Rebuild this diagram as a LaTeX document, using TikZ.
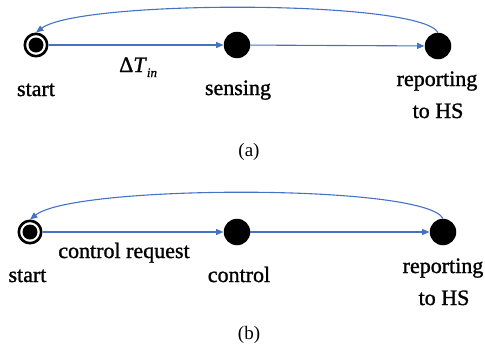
\documentclass[tikz,border=0pt]{standalone}
\usepackage{fontspec}
\setmainfont{Liberation Serif}
\newfontfamily\labelfont[FakeBold=1.2]{Liberation Serif}
\usetikzlibrary{arrows.meta}
\definecolor{flowblue}{RGB}{68,114,196}

\begin{document}
\begin{tikzpicture}[x=1pt,y=-1pt,
  state/.style={circle,fill=black,minimum size=26.5pt,inner sep=0pt},
  initstate/.style={circle,draw=black,line width=2.6pt,minimum size=22.4pt,inner sep=0pt,
    path picture={\fill[black] (path picture bounding box.center) circle (7.5pt);}},
  flow/.style={draw=flowblue,line width=1.1pt,-{Triangle[length=7.5pt,width=6pt]}},
  lbl/.style={font=\labelfont\fontsize{22}{26}\selectfont,anchor=base,inner sep=0pt},
  subcaption/.style={font=\fontsize{19}{22}\selectfont,anchor=base,inner sep=0pt}]
\useasboundingbox (0,0) rectangle (485,349);

% (a) sensing cycle
\node[initstate] (a0) at (36,45) {};
\node[state] (a1) at (237,45) {};
\node[state] (a2) at (438,46) {};
\draw[flow] (a0) -- (a1);
\draw[flow] (a1) -- (a2);
\draw[flow] (a2.north) .. controls +(-18,-33) and +(44,-33) .. (a0.north);
\node[lbl,anchor=base west] (dt) at (119,72) {Δ\textit{T}\raisebox{-5pt}{\fontsize{13}{13}\selectfont\itshape in}};
\node[lbl] (la0) at (36,96) {start};
\node[lbl] (la1) at (238,95) {sensing};
\node[lbl] (la2) at (437,86) {reporting};
\node[lbl] (la3) at (438,118) {to HS};
\node[subcaption] (capa) at (249,156) {(a)};

% (b) control cycle
\node[initstate] (b0) at (30,232) {};
\node[state] (b1) at (237,232) {};
\node[state] (b2) at (443,232) {};
\draw[flow] (b0) -- (b1);
\draw[flow] (b1) -- (b2);
\draw[flow] (b2.north) .. controls +(-18,-35) and +(44,-35) .. (b0.north);
\node[lbl] (req) at (124,258) {control request};
\node[lbl] (lb0) at (27.5,282) {start};
\node[lbl] (lb1) at (239,282) {control};
\node[lbl] (lb2) at (443,273) {reporting};
\node[lbl] (lb3) at (444,305) {to HS};
\node[subcaption] (capb) at (249,339) {(b)};
\end{tikzpicture}
\end{document}
